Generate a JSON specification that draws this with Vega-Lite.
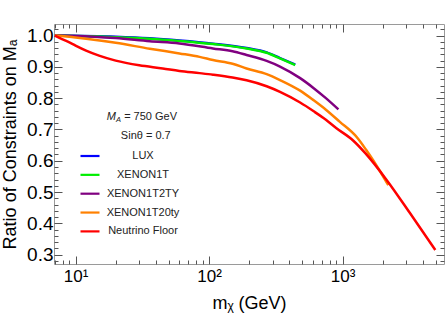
{
  "$schema": "https://vega.github.io/schema/vega-lite/v6.json",
  "width": 390,
  "height": 240,
  "autosize": "none",
  "padding": {"left": 54, "top": 24, "right": 2, "bottom": 54},
  "background": "white",
  "config": {
    "font": "Liberation Sans",
    "view": {"stroke": "#9a9a9a", "strokeWidth": 1},
    "axis": {"domain": false, "grid": false, "tickColor": "#555555", "labelColor": "black", "titleColor": "black", "labelFont": "Liberation Sans", "titleFont": "Liberation Sans", "titleFontWeight": "normal", "labelFontSize": 18, "titleFontSize": 18}
  },
  "data": {"values": [
    {"m": 7, "r": 1.0, "s": "LUX"},
    {"m": 20, "r": 0.9962, "s": "LUX"},
    {"m": 36, "r": 0.9912, "s": "LUX"},
    {"m": 60, "r": 0.9842, "s": "LUX"},
    {"m": 107, "r": 0.9742, "s": "LUX"},
    {"m": 191, "r": 0.9602, "s": "LUX"},
    {"m": 270, "r": 0.9462, "s": "LUX"},
    {"m": 340, "r": 0.9282, "s": "LUX"},
    {"m": 442, "r": 0.9072, "s": "LUX"},
    {"m": 7, "r": 1.0, "s": "XENON1T"},
    {"m": 20, "r": 0.995, "s": "XENON1T"},
    {"m": 36, "r": 0.990, "s": "XENON1T"},
    {"m": 60, "r": 0.983, "s": "XENON1T"},
    {"m": 107, "r": 0.973, "s": "XENON1T"},
    {"m": 191, "r": 0.959, "s": "XENON1T"},
    {"m": 270, "r": 0.945, "s": "XENON1T"},
    {"m": 340, "r": 0.927, "s": "XENON1T"},
    {"m": 442, "r": 0.906, "s": "XENON1T"},
    {"m": 7, "r": 1.0, "s": "XENON1T2TY"},
    {"m": 10, "r": 0.999, "s": "XENON1T2TY"},
    {"m": 20, "r": 0.992, "s": "XENON1T2TY"},
    {"m": 36, "r": 0.982, "s": "XENON1T2TY"},
    {"m": 60, "r": 0.975, "s": "XENON1T2TY"},
    {"m": 107, "r": 0.959, "s": "XENON1T2TY"},
    {"m": 150, "r": 0.950, "s": "XENON1T2TY"},
    {"m": 191, "r": 0.938, "s": "XENON1T2TY"},
    {"m": 270, "r": 0.919, "s": "XENON1T2TY"},
    {"m": 340, "r": 0.901, "s": "XENON1T2TY"},
    {"m": 481, "r": 0.864, "s": "XENON1T2TY"},
    {"m": 608, "r": 0.832, "s": "XENON1T2TY"},
    {"m": 750, "r": 0.800, "s": "XENON1T2TY"},
    {"m": 931, "r": 0.764, "s": "XENON1T2TY"},
    {"m": 7, "r": 1.0, "s": "XENON1T20ty"},
    {"m": 10, "r": 0.994, "s": "XENON1T20ty"},
    {"m": 12, "r": 0.990, "s": "XENON1T20ty"},
    {"m": 20, "r": 0.977, "s": "XENON1T20ty"},
    {"m": 36, "r": 0.958, "s": "XENON1T20ty"},
    {"m": 60, "r": 0.943, "s": "XENON1T20ty"},
    {"m": 85, "r": 0.932, "s": "XENON1T20ty"},
    {"m": 107, "r": 0.922, "s": "XENON1T20ty"},
    {"m": 150, "r": 0.910, "s": "XENON1T20ty"},
    {"m": 191, "r": 0.895, "s": "XENON1T20ty"},
    {"m": 270, "r": 0.877, "s": "XENON1T20ty"},
    {"m": 340, "r": 0.858, "s": "XENON1T20ty"},
    {"m": 481, "r": 0.824, "s": "XENON1T20ty"},
    {"m": 608, "r": 0.793, "s": "XENON1T20ty"},
    {"m": 750, "r": 0.763, "s": "XENON1T20ty"},
    {"m": 950, "r": 0.725, "s": "XENON1T20ty"},
    {"m": 1280, "r": 0.675, "s": "XENON1T20ty"},
    {"m": 1500, "r": 0.635, "s": "XENON1T20ty"},
    {"m": 2000, "r": 0.552, "s": "XENON1T20ty"},
    {"m": 2200, "r": 0.522, "s": "XENON1T20ty"},
    {"m": 7, "r": 1.0, "s": "Neutrino Floor"},
    {"m": 8, "r": 0.988, "s": "Neutrino Floor"},
    {"m": 9, "r": 0.978, "s": "Neutrino Floor"},
    {"m": 10, "r": 0.968, "s": "Neutrino Floor"},
    {"m": 12, "r": 0.952, "s": "Neutrino Floor"},
    {"m": 15, "r": 0.936, "s": "Neutrino Floor"},
    {"m": 20, "r": 0.920, "s": "Neutrino Floor"},
    {"m": 30, "r": 0.905, "s": "Neutrino Floor"},
    {"m": 45, "r": 0.895, "s": "Neutrino Floor"},
    {"m": 60, "r": 0.887, "s": "Neutrino Floor"},
    {"m": 85, "r": 0.880, "s": "Neutrino Floor"},
    {"m": 107, "r": 0.875, "s": "Neutrino Floor"},
    {"m": 150, "r": 0.866, "s": "Neutrino Floor"},
    {"m": 191, "r": 0.857, "s": "Neutrino Floor"},
    {"m": 270, "r": 0.838, "s": "Neutrino Floor"},
    {"m": 340, "r": 0.820, "s": "Neutrino Floor"},
    {"m": 481, "r": 0.786, "s": "Neutrino Floor"},
    {"m": 608, "r": 0.758, "s": "Neutrino Floor"},
    {"m": 750, "r": 0.731, "s": "Neutrino Floor"},
    {"m": 900, "r": 0.704, "s": "Neutrino Floor"},
    {"m": 1205, "r": 0.664, "s": "Neutrino Floor"},
    {"m": 1474, "r": 0.625, "s": "Neutrino Floor"},
    {"m": 2144, "r": 0.538, "s": "Neutrino Floor"},
    {"m": 3205, "r": 0.432, "s": "Neutrino Floor"},
    {"m": 4950, "r": 0.315, "s": "Neutrino Floor"}
  ]},
  "resolve": {"axis": {"x": "independent", "y": "independent"}},
  "layer": [
    {
      "mark": {"type": "line", "strokeWidth": 2.5, "interpolate": "monotone"},
      "encoding": {
        "x": {"field": "m", "type": "quantitative",
          "scale": {"type": "log", "domain": [6.9, 5750]},
          "axis": {"orient": "bottom", "title": "mᵪ (GeV)", "titlePadding": 6, "labelFontSize": 17,
            "values": [7,8,9,10,20,30,40,50,60,70,80,90,100,200,300,400,500,600,700,800,900,1000,2000,3000,4000,5000],
            "labelExpr": "datum.value==10?'10¹':datum.value==100?'10²':datum.value==1000?'10³':''",
            "labelOverlap": false, "labelFlush": false, "labelPadding": 12.5,
            "tickSize": {"condition": {"test": "datum.value==10||datum.value==100||datum.value==1000", "value": -8}, "value": -4}}},
        "y": {"field": "r", "type": "quantitative",
          "scale": {"domain": [0.27, 1.037], "zero": false, "nice": false},
          "axis": {"orient": "left", "title": "Ratio of Constraints on Mₐ", "titlePadding": 7, "labelFontSize": 19,
            "values": [0.28,0.3,0.32,0.34,0.36,0.38,0.4,0.42,0.44,0.46,0.48,0.5,0.52,0.54,0.56,0.58,0.6,0.62,0.64,0.66,0.68,0.7,0.72,0.74,0.76,0.78,0.8,0.82,0.84,0.86,0.88,0.9,0.92,0.94,0.96,0.98,1.0,1.02],
            "labelExpr": "abs(datum.value*10-round(datum.value*10))<0.01 ? format(datum.value,'.1f') : ''",
            "labelOverlap": false, "labelFlush": false, "labelPadding": 9,
            "tickSize": {"condition": {"test": "abs(datum.value*10-round(datum.value*10))<0.01", "value": -8}, "value": -4}}},
        "color": {"field": "s", "type": "nominal", "sort": ["LUX", "XENON1T", "XENON1T2TY", "XENON1T20ty", "Neutrino Floor"],
          "scale": {"domain": ["LUX", "XENON1T", "XENON1T2TY", "XENON1T20ty", "Neutrino Floor"], "range": ["#0000ff", "#00ee00", "#800080", "#ff8000", "#ff0000"]},
          "legend": {"orient": "none", "legendX": 25, "legendY": 121, "title": null, "padding": 0,
            "symbolType": "stroke", "symbolSize": 361, "symbolStrokeWidth": 2.2,
            "labelFontSize": 11, "labelFont": "Liberation Sans", "labelColor": "#222222", "labelAlign": "center", "labelOffset": 42, "rowPadding": 2.85}}
      }
    },
    {
      "data": {"values": [{}]},
      "mark": {"type": "text", "fontSize": 11, "align": "center", "baseline": "middle", "color": "#222222"},
      "encoding": {
        "x": {"datum": 33.6, "type": "quantitative", "scale": {"type": "log", "domain": [6.9, 5750]},
          "axis": {"orient": "top", "labels": false, "title": null,
            "values": [7,8,9,10,20,30,40,50,60,70,80,90,100,200,300,400,500,600,700,800,900,1000,2000,3000,4000,5000],
            "tickSize": {"condition": {"test": "datum.value==10||datum.value==100||datum.value==1000", "value": -8}, "value": -4}}},
        "y": {"datum": 0.680, "type": "quantitative", "scale": {"domain": [0.27, 1.037], "zero": false, "nice": false},
          "axis": {"orient": "right", "labels": false, "title": null,
            "values": [0.28,0.3,0.32,0.34,0.36,0.38,0.4,0.42,0.44,0.46,0.48,0.5,0.52,0.54,0.56,0.58,0.6,0.62,0.64,0.66,0.68,0.7,0.72,0.74,0.76,0.78,0.8,0.82,0.84,0.86,0.88,0.9,0.92,0.94,0.96,0.98,1.0,1.02],
            "tickSize": {"condition": {"test": "abs(datum.value*10-round(datum.value*10))<0.01", "value": -8}, "value": -4}}},
        "text": {"value": "Sinθ = 0.7"}
      }
    },
    {
      "data": {"values": [{}]},
      "mark": {"type": "text", "fontSize": 11, "fontStyle": "italic", "align": "left", "baseline": "middle", "color": "#222222"},
      "encoding": {
        "x": {"datum": 17.1, "type": "quantitative", "scale": {"type": "log", "domain": [6.9, 5750]}, "axis": null},
        "y": {"datum": 0.740, "type": "quantitative", "scale": {"domain": [0.27, 1.037], "zero": false, "nice": false}, "axis": null},
        "text": {"value": "M"}
      }
    },
    {
      "data": {"values": [{}]},
      "mark": {"type": "text", "fontSize": 7.5, "fontStyle": "italic", "align": "left", "baseline": "middle", "dx": 9.3, "dy": 3, "color": "#222222"},
      "encoding": {
        "x": {"datum": 17.1, "type": "quantitative", "scale": {"type": "log", "domain": [6.9, 5750]}, "axis": null},
        "y": {"datum": 0.740, "type": "quantitative", "scale": {"domain": [0.27, 1.037], "zero": false, "nice": false}, "axis": null},
        "text": {"value": "A"}
      }
    },
    {
      "data": {"values": [{}]},
      "mark": {"type": "text", "fontSize": 11, "align": "left", "baseline": "middle", "dx": 17.5, "color": "#222222"},
      "encoding": {
        "x": {"datum": 17.1, "type": "quantitative", "scale": {"type": "log", "domain": [6.9, 5750]}, "axis": null},
        "y": {"datum": 0.740, "type": "quantitative", "scale": {"domain": [0.27, 1.037], "zero": false, "nice": false}, "axis": null},
        "text": {"value": "= 750 GeV"}
      }
    }
  ]
}
